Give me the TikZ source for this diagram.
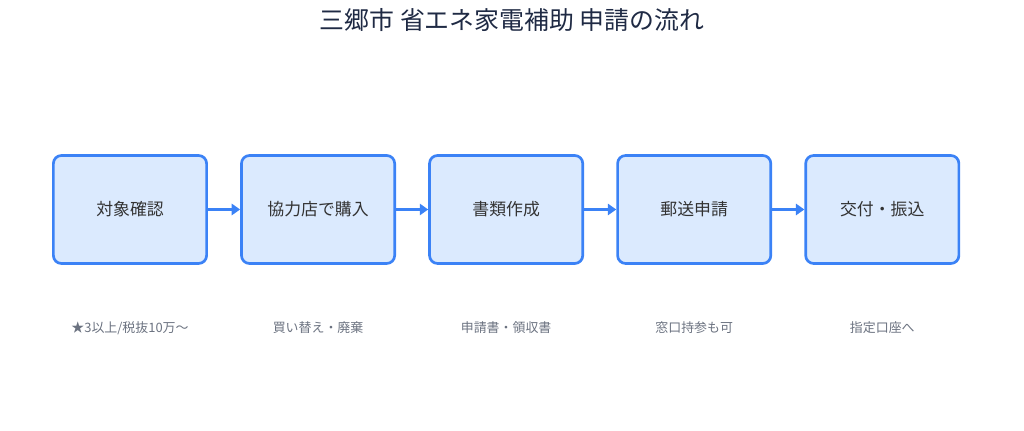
\documentclass[tikz,border=0pt]{standalone}
\usepackage{fontspec}
\setmainfont{Noto Sans CJK JP}
\usetikzlibrary{positioning, arrows.meta}
\definecolor{stepblue}{HTML}{3B82F6}
\definecolor{stepfill}{HTML}{DBEAFE}
\definecolor{steptext}{HTML}{333333}
\definecolor{notegray}{HTML}{6B7280}
\definecolor{titleink}{HTML}{1F2A44}
\tikzset{
  stepbox/.style={draw=stepblue, fill=stepfill, line width=1.9pt, rounded corners=0.2cm,
    minimum width=3.83cm, minimum height=2.7cm, inner sep=0pt,
    font=\fontsize{12}{14}\selectfont, text=steptext},
  note/.style={font=\fontsize{9.2}{11}\selectfont, text=notegray},
  flow/.style={-{Triangle[length=6pt,width=8pt]}, line width=2pt, draw=stepblue}
}
\begin{document}
\begin{tikzpicture}
\useasboundingbox (0,0) rectangle (25.6,10.775);
\node[font=\fontsize{17.7}{20}\selectfont, text=titleink] (title) at (12.8,10.275) {三郷市 省エネ家電補助 申請の流れ};

\node[stepbox] (s1) at (3.25,5.5375) {対象確認};
\node[stepbox, right=0.805cm of s1] (s2) {協力店で購入};
\node[stepbox, right=0.805cm of s2] (s3) {書類作成};
\node[stepbox, right=0.805cm of s3] (s4) {郵送申請};
\node[stepbox, right=0.805cm of s4] (s5) {交付・振込};

\foreach \a/\b in {s1/s2, s2/s3, s3/s4, s4/s5}
  \draw[flow] (\a) -- (\b);

\foreach \s/\t in {s1/{★3以上/税抜10万〜}, s2/{買い替え・廃棄}, s3/{申請書・領収書}, s4/{窓口持参も可}, s5/{指定口座へ}}
  \node[note, below=1.3cm of \s] (n\s) {\t};
\end{tikzpicture}
\end{document}
